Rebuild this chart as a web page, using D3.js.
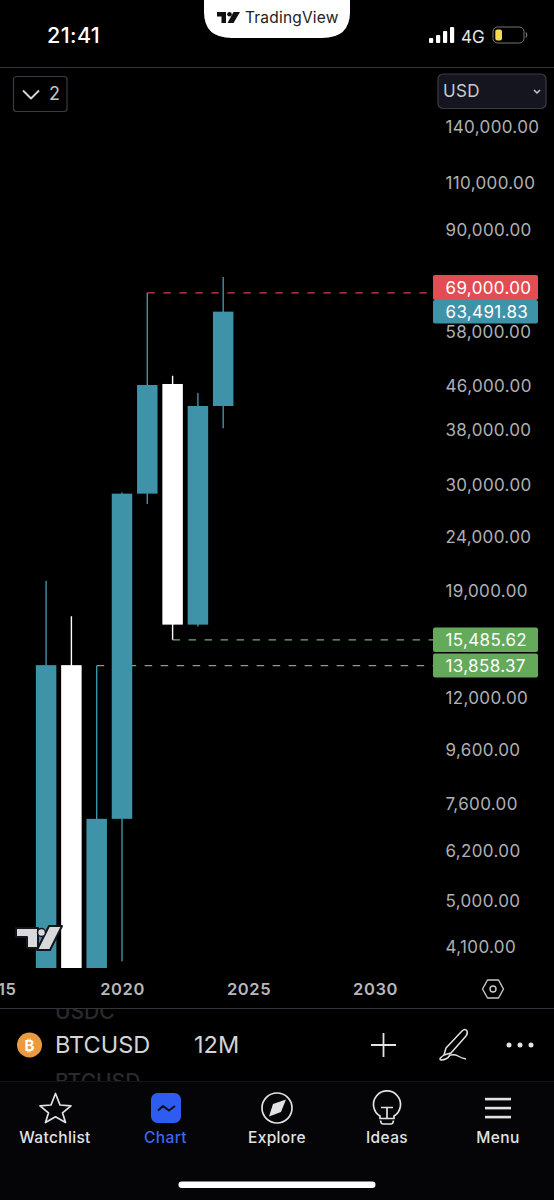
<!DOCTYPE html>
<html><head><meta charset="utf-8">
<script src="https://cdn.jsdelivr.net/npm/d3@7"></script>
<style>
html,body{margin:0;padding:0;background:#000;}
svg{display:block;font-family:Inter,"Noto Sans",sans-serif;}
svg text{font-family:Inter,"Noto Sans",sans-serif;}
</style></head><body>
<svg id="c" width="554" height="1200" viewBox="0 0 554 1200"></svg>
<script>
const years = [2017,2018,2019,2020,2021,2022,2023,2024];
const opens = [963,13858.37,3700,7150,29000,46500,16500,42300];
const closes = [13858.37,3700,7150,29000,46300,16500,42300,63491.83];
const highs = [19950,17150,13858.37,29200,69000,48300,44850,73900];
const lows = [780,3200,3350,3880,27800,15485.62,16400,38500];
const priceTicks = [140000,110000,90000,58000,46000,38000,30000,24000,19000,12000,9600,7600,6200,5000,4100];
const yearTicks = [2015,2020,2025,2030];
const levelValues = [69000,15485.62,13858.37];
const levelStartYears = [2021,2022,2019];
const levelColors = ["#d2404f","#74ad6c","#74ad6c"];
const tagValues = [69000,63491.83,15485.62,13858.37];
const tagColors = ["#e34c53","#3f93a8","#64aa5a","#64aa5a"];

const TEAL="#3f93a8";
const svg=d3.select("#c");
const x=d3.scaleLinear().domain([2020,2030]).range([122,375]);
const y=d3.scaleLog().domain([4100,140000]).range([947.5,127.5]);
const fmt=d3.format(",.2f");
svg.append("rect").attr("width",554).attr("height",1200).attr("fill","#000");
svg.append("defs").append("clipPath").attr("id","plot").append("rect")
  .attr("x",0).attr("y",68).attr("width",554).attr("height",900);

// price axis
const ya=svg.append("g").attr("transform","translate(445.5,0)")
  .call(d3.axisRight(y).tickValues(priceTicks).tickSize(0).tickPadding(0).tickFormat(fmt));
ya.select(".domain").remove();
ya.selectAll("text").attr("text-anchor","start").attr("fill","#aeb0b4").attr("font-size",17).attr("letter-spacing",0.35);

// time axis
const xa=svg.append("g").attr("transform","translate(0,983.5)")
  .call(d3.axisBottom(x).tickValues(yearTicks).tickSize(0).tickPadding(0).tickFormat(d3.format("d")));
xa.select(".domain").remove();
xa.selectAll("text").attr("fill","#b7b8bb").attr("font-size",16.5).attr("font-weight",600).attr("letter-spacing",0.6);

// level lines
const plot=svg.append("g").attr("clip-path","url(#plot)").attr("transform","translate(0,0)");
plot.selectAll("line.lvl").data(levelValues).join("line").attr("class","lvl")
  .attr("x1",(d,i)=>x(levelStartYears[i])).attr("x2",433)
  .attr("y1",d=>y(d)+1).attr("y2",d=>y(d)+1)
  .attr("stroke",(d,i)=>levelColors[i]).attr("stroke-width",1.4).attr("stroke-dasharray","7.5 8.5");

// candles
const idx=d3.range(years.length);
const colorOf=i=>closes[i]>=opens[i]?TEAL:"#fff";
plot.selectAll("line.wick").data(idx).join("line").attr("class","wick")
  .attr("x1",i=>x(years[i])).attr("x2",i=>x(years[i]))
  .attr("y1",i=>y(highs[i])+1).attr("y2",i=>y(lows[i])+1)
  .attr("stroke",colorOf).attr("stroke-width",1.4);
const bw=20.5;
plot.selectAll("rect.body").data(idx).join("rect").attr("class","body")
  .attr("x",i=>x(years[i])-bw/2).attr("width",bw)
  .attr("y",i=>y(Math.max(opens[i],closes[i]))+0.5)
  .attr("height",i=>y(Math.min(opens[i],closes[i]))-y(Math.max(opens[i],closes[i])))
  .attr("fill",colorOf);

// price tags
const tagH=[25,23.5,24.5,24];
const tagTop=[275,300,627.5,653.5];
const tags=svg.selectAll("g.tag").data(tagValues).join("g").attr("class","tag");
tags.append("rect").attr("x",433).attr("width",105).attr("rx",2)
  .attr("y",(d,i)=>tagTop[i]).attr("height",(d,i)=>tagH[i]).attr("fill",(d,i)=>tagColors[i]);
tags.append("text").attr("x",445.5).attr("text-anchor","start").attr("letter-spacing",0.35)
  .attr("y",(d,i)=>tagTop[i]+tagH[i]/2+6).attr("font-size",17).attr("fill","#fff").text(fmt);

// status bar
const T=(s,xx,yy,size,fill,anchor,w,ls)=>svg.append("text").attr("x",xx).attr("y",yy).attr("font-size",size)
  .attr("fill",fill).attr("text-anchor",anchor||"start").attr("font-weight",w||400).attr("letter-spacing",ls||0).text(s);
const P=(d,stroke,sw,fill)=>svg.append("path").attr("d",d).attr("fill",fill||"none").attr("stroke",stroke||"none").attr("stroke-width",sw||1).attr("stroke-linejoin","round");
T("21:41",47,43,21.5,"#fff","start",500,0.4);
P("M204,0H350V12Q350,38 322,38H232Q204,38 204,12Z",null,0,"#fff");
P("M217,12H226V23H221.5V16.5H217Z M233.5,12H240L233.5,23H227.5Z",null,0,"#111");
svg.append("circle").attr("cx",229.5).attr("cy",14.3).attr("r",2.3).attr("fill","#111");
T("TradingView",245,23,15.5,"#222","start",400,0.2);
[429,436,443,450].forEach((a,i)=>svg.append("rect").attr("x",a).attr("y",43-[5,8,12,16][i]).attr("width",4.2).attr("height",[5,8,12,16][i]).attr("rx",1).attr("fill","#fff"));
T("4G",461,43,17,"#e6e6e6");
svg.append("rect").attr("x",493).attr("y",27).attr("width",31).attr("height",16).attr("rx",4.5).attr("fill","none").attr("stroke","#77777a");
svg.append("rect").attr("x",495.3).attr("y",29.5).attr("width",6.7).attr("height",11).attr("rx",2).attr("fill","#f5d94e");
P("M526,32.5q1.6,2.5 0,5","#77777a",1.2);
svg.append("line").attr("x1",0).attr("x2",554).attr("y1",67.5).attr("y2",67.5).attr("stroke","#33343c");

// controls
svg.append("rect").attr("x",13.5).attr("y",76.5).attr("width",53.5).attr("height",35).attr("rx",3).attr("fill","#000").attr("stroke","#3a3b40").attr("stroke-width",1.2);
P("M23,90.5L31,98.5L39,90.5","#d6d6d8",1.8);
T("2",49,100,18,"#c4c5c8");
svg.append("rect").attr("x",438).attr("y",74).attr("width",108).attr("height",34.5).attr("rx",5).attr("fill","#14151f").attr("stroke","#3a3c46").attr("stroke-width",1.2);
T("USD",443,97,17,"#c9cad0","start",400,0.4);
P("M534,90L537,93L540,90","#c9cad0",1.5);

// watermark
P("M16,928H38V948H27V937H16Z M49,926H62L50,950H37Z","#14151c",2,"#d9d9dc");
svg.append("circle").attr("cx",41.5).attr("cy",932.5).attr("r",4).attr("fill","#d9d9dc").attr("stroke","#14151c").attr("stroke-width",1.5);

// settings hexagon
P("M487.5,980H498.5L503.5,989L498.5,998H487.5L482.5,989Z","#c9c9cc",1.4);
svg.append("circle").attr("cx",493).attr("cy",989).attr("r",3).attr("fill","none").attr("stroke","#c9c9cc").attr("stroke-width",1.4);

// symbol bar
T("USDC",55,1019,21,"#2a2a2c","start",500);
svg.append("rect").attr("x",0).attr("y",1000).attr("width",554).attr("height",8).attr("fill","#000");
svg.append("line").attr("x1",0).attr("x2",554).attr("y1",1008.5).attr("y2",1008.5).attr("stroke","#33343c");
svg.append("circle").attr("cx",29.5).attr("cy",1045).attr("r",12.5).attr("fill","#ec9a3f");
T("₿",29.5,1050.5,15,"#fff","middle",700);
T("BTCUSD",55,1053,23.5,"#d4d5d7");
T("12M",194,1053,23.5,"#d4d5d7");
P("M371,1045H396M383.5,1033V1057","#e4e4e6",1.8);
P("M446,1048L462,1031Q465,1028 467,1031Q468,1033 466,1036L451,1053L444,1055Z M444,1055Q438,1059 441,1060Q447,1060 450,1055Q455,1054 458,1056Q461,1058 466,1059","#e4e4e6",1.5);
[509,520,531].forEach(c=>svg.append("circle").attr("cx",c).attr("cy",1045).attr("r",2.5).attr("fill","#e4e4e6"));
T("BTCUSD",55,1089,21,"#2a2a2c","start",500);
svg.append("rect").attr("x",0).attr("y",1082).attr("width",554).attr("height",118).attr("fill","#050507");
svg.append("line").attr("x1",0).attr("x2",554).attr("y1",1081.5).attr("y2",1081.5).attr("stroke","#141418");

// tab bar
const tabs=["Watchlist","Chart","Explore","Ideas","Menu"];
const tabX=[55,165.5,277,387,498];
svg.selectAll("text.tab").data(tabs).join("text").attr("class","tab").attr("x",(d,i)=>tabX[i]).attr("y",1143)
  .attr("text-anchor","middle").attr("font-size",15.5).attr("font-weight",500).attr("letter-spacing",0.35).attr("fill",(d,i)=>i==1?"#3d68f0":"#e2e2e4").text(d=>d);
P("M55.5,1093.5L60,1105L71,1105.8L62.5,1112.8L65.5,1122.5L55.5,1116.8L45.5,1122.5L48.5,1112.8L40,1105.8L51,1105Z","#e2e2e4",1.7);
svg.append("rect").attr("x",151).attr("y",1093).attr("width",30).attr("height",30).attr("rx",6.5).attr("fill","#2f5cf0");
P("M158,1110.5L163,1106L169,1110.5L175,1106","#101010",2);
svg.append("circle").attr("cx",277).attr("cy",1108).attr("r",15).attr("fill","none").attr("stroke","#e2e2e4").attr("stroke-width",1.7);
P("M269,1116.5L273,1104L286,1099.5L281,1112Z",null,0,"#e2e2e4");
P("M380,1118.5V1116A13.5,13.5 0 1 1 394,1116V1118.5Z","#e2e2e4",1.7);
P("M381,1107.5H393M387,1107.5V1118M380.5,1120.5Q381,1124 383,1124H391Q393,1124 393.5,1120.5","#e2e2e4",1.7);
[1099,1108,1117].forEach(v=>svg.append("rect").attr("x",485).attr("y",v-1.2).attr("width",26).attr("height",2.6).attr("fill","#e2e2e4"));
svg.append("rect").attr("x",178.5).attr("y",1181.5).attr("width",197).attr("height",6.5).attr("rx",3.2).attr("fill","#fff");
</script>
</body></html>
